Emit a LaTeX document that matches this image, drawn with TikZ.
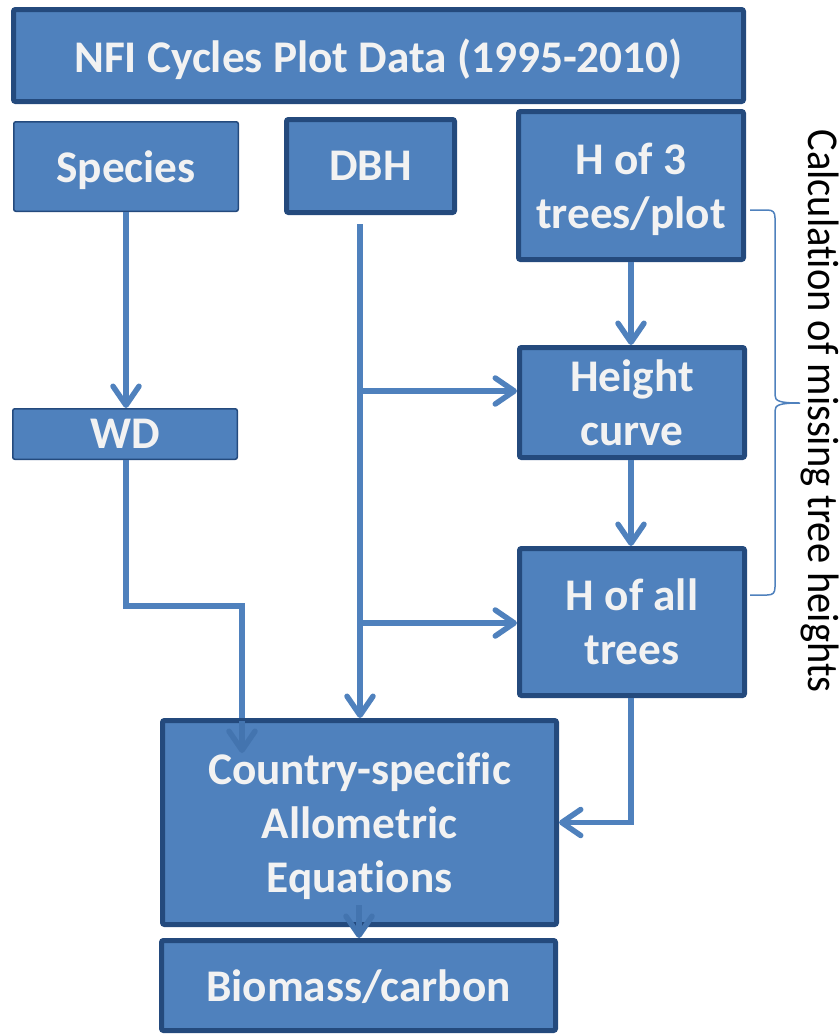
\documentclass[tikz,border=0pt]{standalone}
\usepackage{fontspec}
\setmainfont{Carlito}[Ligatures=NoCommon]
\usetikzlibrary{arrows.meta,calc}

\definecolor{boxfill}{HTML}{4F81BD}
\definecolor{boxline}{HTML}{244A7D}
\definecolor{boxtext}{HTML}{F2F2F2}
\definecolor{flowc}{HTML}{4F81BD}
\definecolor{flowin}{HTML}{4374AF}

\tikzset{
  box/.style={draw=boxline, fill=boxfill, line width=5pt, rounded corners=2pt,
    text=boxtext, font=\bfseries\fontsize{45.3}{54}\selectfont, align=center,
    inner sep=0pt, text depth=0pt},
  thinbox/.style={box, line width=1.5pt},
  link/.style={draw=flowc, line width=5.5pt},
  flow/.style={link, -{Straight Barb[length=19pt,width=26pt,round]}},
  bracec/.style={draw=flowc, line width=1.5pt},
}

\begin{document}
\begin{tikzpicture}[x=1pt,y=-1pt]
\useasboundingbox (0,0) rectangle (840,1034);

% boxes
\node[box, minimum width=730pt, minimum height=92pt] (title) at (378.5,55.5) {NFI Cycles Plot Data (1995-2010)};
\node[thinbox, minimum width=224.5pt, minimum height=89.5pt] (species) at (126,166.5) {Species};
\node[box, minimum width=168pt, minimum height=93pt] (dbh) at (370.5,166) {DBH};
\node[box, minimum width=225pt, minimum height=148pt] (h3) at (631,185.5) {H of 3\\trees/plot};
\node[thinbox, minimum width=224.5pt, minimum height=50.5pt] (wd) at (125,434) {WD};
\node[box, minimum width=225pt, minimum height=110pt] (hc) at (632,402.5) {Height\\curve};
\node[box, minimum width=225pt, minimum height=147pt] (ha) at (632,622) {H of all\\trees};
\node[box, minimum width=394pt, minimum height=204pt] (country) at (359.5,822.5) {Country-specific\\Allometric\\Equations};
\node[box, minimum width=394pt, minimum height=90pt] (biomass) at (358.5,985.5) {Biomass/carbon};

% connectors
\draw[flow] (species.south -| 126,0) -- (wd.north -| 126,0);

\coordinate (d0) at (360,224);
\coordinate (d1) at (360,391);
\coordinate (d2) at (360,623);
\draw[flow] (d0) -- (d0 |- country.north);
\draw[flow] (d1) -- (d1 -| hc.west);
\draw[flow] (d2) -- (d2 -| ha.west);

\draw[flow] (h3.south -| 631,0) -- (hc.north -| 631,0);
\draw[flow] (hc.south -| 631,0) -- (ha.north -| 631,0);
\draw[flow] (ha.south -| 631,0) |- (country.east);

\coordinate (w1) at (242,606);
\draw[link] (wd.south -| 126,0) |- (w1) -- (w1 |- country.north);
\coordinate (w2) at (242,721);
\draw[flow, draw=flowin] (w2) -- ++(0,32);

\coordinate (c1) at (359,905);
\draw[flow, draw=flowin] (c1) -- (c1 |- biomass.north);

% brace grouping the height steps
\coordinate (b0) at (750,210);
\coordinate (bt) at (800,403);
\coordinate (b1) at (750,595);
\draw[bracec] (b0) -- (767,210) .. controls (773,210) and (775,212) .. (775,218)
  -- (775,395) .. controls (775,401) and (779,403) .. (bt)
  .. controls (779,403) and (775,405) .. (775,411)
  -- (775,587) .. controls (775,593) and (773,595) .. (767,595) -- (b1);

\node[rotate=-90, anchor=base, inner sep=0pt, font=\fontsize{44}{53}\selectfont] (calc) at (808,411)
  {\scalebox{0.92}[1]{Calculation of missing tree heights}};
\end{tikzpicture}
\end{document}
